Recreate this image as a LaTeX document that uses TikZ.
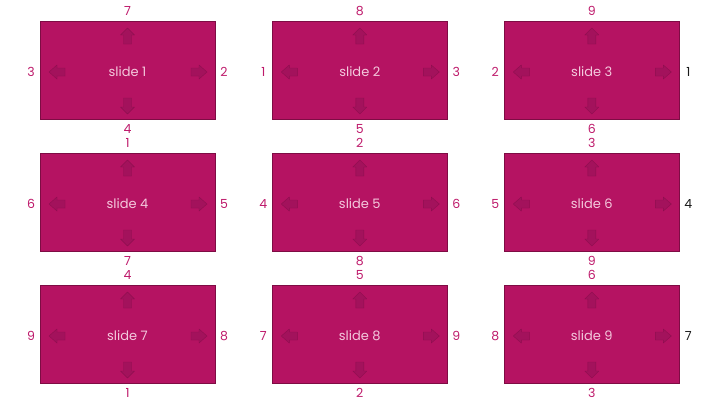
\documentclass[tikz,border=0pt]{standalone}
\usepackage{fontspec}
\setmainfont{Poppins}
\definecolor{boxfill}{HTML}{B51362}
\definecolor{boxline}{HTML}{7E0C44}
\definecolor{slidetext}{HTML}{F4C9DD}
\definecolor{numcol}{HTML}{BE1A6B}
\definecolor{numblack}{HTML}{1A1A1A}
\definecolor{arrfill}{HTML}{A3125C}
\definecolor{arredge}{HTML}{8E0E4F}
\begin{document}
\begin{tikzpicture}[x=1pt,y=-1pt,
  slidebox/.style={draw=boxline, fill=boxfill, line width=0.7pt,
    minimum width=175pt, minimum height=98pt, inner sep=0pt,
    text=slidetext, font=\fontsize{13}{15}\selectfont},
  numlabel/.style={inner sep=0pt, font=\fontsize{12.5}{14}\selectfont},
  arrowshape/.style={fill=arrfill, draw=arredge, line width=0.4pt, line join=round},
  pics/uparr/.style={code={\filldraw[arrowshape] (0,-8) -- (7,-1) -- (4,-1) -- (4,8) -- (-4,8) -- (-4,-1) -- (-7,-1) -- cycle;}},
  pics/downarr/.style={code={\filldraw[arrowshape] (0,8) -- (7,1) -- (4,1) -- (4,-8) -- (-4,-8) -- (-4,1) -- (-7,1) -- cycle;}},
  pics/leftarr/.style={code={\filldraw[arrowshape] (-8,0) -- (0,-7) -- (0,-4) -- (8,-4) -- (8,4) -- (0,4) -- (0,7) -- cycle;}},
  pics/rightarr/.style={code={\filldraw[arrowshape] (8,0) -- (0,-7) -- (0,-4) -- (-8,-4) -- (-8,4) -- (0,4) -- (0,7) -- cycle;}}
]
\useasboundingbox (0,0) rectangle (720,405);
\foreach \i/\cx/\cy/\t/\r/\b/\l/\rc in {
  1/127.5/70/7/2/4/3/numcol,
  2/359.8/70/8/3/5/1/numcol,
  3/591.8/70/9/1/6/2/numblack,
  4/127.5/202/1/5/7/6/numcol,
  5/359.8/202/2/6/8/4/numcol,
  6/591.8/202/3/4/9/5/numblack,
  7/127.5/334/4/8/1/9/numcol,
  8/359.8/334/5/9/2/7/numcol,
  9/591.8/334/6/7/3/8/numblack}{
  \node[slidebox] (s\i) at (\cx,\cy) {};
  \node[text=slidetext, font=\fontsize{13}{15}\selectfont, inner sep=0pt] (c\i) at (\cx,\cy+2) {slide \i};
  \node[numlabel, text=numcol] (t\i) at (\cx,\cy-59) {\t};
  \node[numlabel, text=numcol] (b\i) at (\cx,\cy+59) {\b};
  \node[numlabel, text=numcol] (l\i) at (\cx-96.5,\cy+2) {\l};
  \node[numlabel, text=\rc] (r\i) at (\cx+96.5,\cy+2) {\r};
  \pic at (\cx,\cy-34) {uparr};
  \pic at (\cx,\cy+36) {downarr};
  \pic at (\cx-70.5,\cy+2) {leftarr};
  \pic at (\cx+71.5,\cy+2) {rightarr};
}
\end{tikzpicture}
\end{document}
